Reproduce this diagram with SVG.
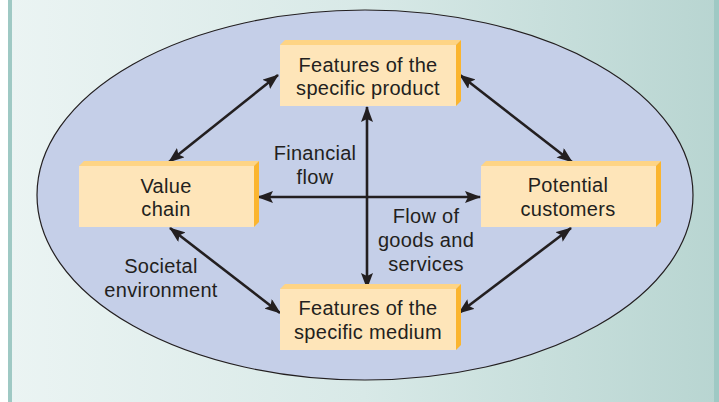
<svg xmlns="http://www.w3.org/2000/svg" width="719" height="402" viewBox="0 0 719 402">
<defs>
<linearGradient id="bg" x1="0" y1="0" x2="1" y2="0">
<stop offset="0" stop-color="#ebf4f3"/>
<stop offset="0.5" stop-color="#d8e9e7"/>
<stop offset="1" stop-color="#b8d5d1"/>
</linearGradient>
<marker id="ah" viewBox="0 0 16 12" refX="15" refY="6" markerWidth="16" markerHeight="12" markerUnits="userSpaceOnUse" orient="auto-start-reverse">
<path d="M0,0 L16,6 L0,12 L3,6 Z" fill="#231f20"/>
</marker>
</defs>
<style>
.front{fill:#fee5b9}
.top{fill:#fed485}
.side{fill:#fbb52f}
text{font-family:"Liberation Sans",Arial,sans-serif;font-size:20px;letter-spacing:0.3px;fill:#231f20;text-anchor:middle}
.con{stroke:#231f20;stroke-width:2.6;fill:none;marker-start:url(#ah);marker-end:url(#ah)}
</style>
<rect x="0" y="0" width="719" height="402" fill="#ffffff"/>
<rect x="8" y="0" width="711" height="402" fill="url(#bg)"/>
<rect x="8" y="0" width="4" height="402" fill="#9fc9c4"/>
<rect x="714" y="0" width="5" height="402" fill="#9fc9c4"/>
<ellipse cx="365" cy="195" rx="328" ry="185" fill="#c5cfe8" stroke="#231f20" stroke-width="1.2"/>
<g id="connectors">
<line class="con" x1="367" y1="107" x2="367" y2="288"/>
<line class="con" x1="258" y1="197" x2="480" y2="197"/>
<line class="con" x1="278" y1="75" x2="169" y2="162"/>
<line class="con" x1="460" y1="75" x2="572" y2="162"/>
<line class="con" x1="170" y1="228" x2="280" y2="313"/>
<line class="con" x1="571" y1="228" x2="459" y2="313"/>
</g>
<g id="product">
<polygon class="top" points="280,45 285,40 461,40 456,45"/>
<polygon class="side" points="456,45 461,40 461,101 456,106"/>
<rect class="front" x="280" y="45" width="176" height="61"/>
<text x="368" y="71.5">Features of the</text>
<text x="368" y="95">specific product</text>
</g>
<g id="valuechain">
<polygon class="top" points="79,166 84,161 259,161 254,166"/>
<polygon class="side" points="254,166 259,161 259,222 254,227"/>
<rect class="front" x="79" y="166" width="175" height="61"/>
<text x="166" y="193">Value</text>
<text x="166" y="216">chain</text>
</g>
<g id="customers">
<polygon class="top" points="481,166 486,161 661,161 656,166"/>
<polygon class="side" points="656,166 661,161 661,222 656,227"/>
<rect class="front" x="481" y="166" width="175" height="61"/>
<text x="568" y="192">Potential</text>
<text x="568" y="216">customers</text>
</g>
<g id="medium">
<polygon class="top" points="280,289 285,284 461,284 456,289"/>
<polygon class="side" points="456,289 461,284 461,345 456,350"/>
<rect class="front" x="280" y="289" width="176" height="61"/>
<text x="368" y="315">Features of the</text>
<text x="368" y="339">specific medium</text>
</g>
<g id="labels">
<text x="315" y="160">Financial</text>
<text x="315" y="183.5">flow</text>
<text x="426" y="223">Flow of</text>
<text x="426" y="247">goods and</text>
<text x="426" y="270.5">services</text>
<text x="161" y="273">Societal</text>
<text x="161" y="296.5">environment</text>
</g>
</svg>
